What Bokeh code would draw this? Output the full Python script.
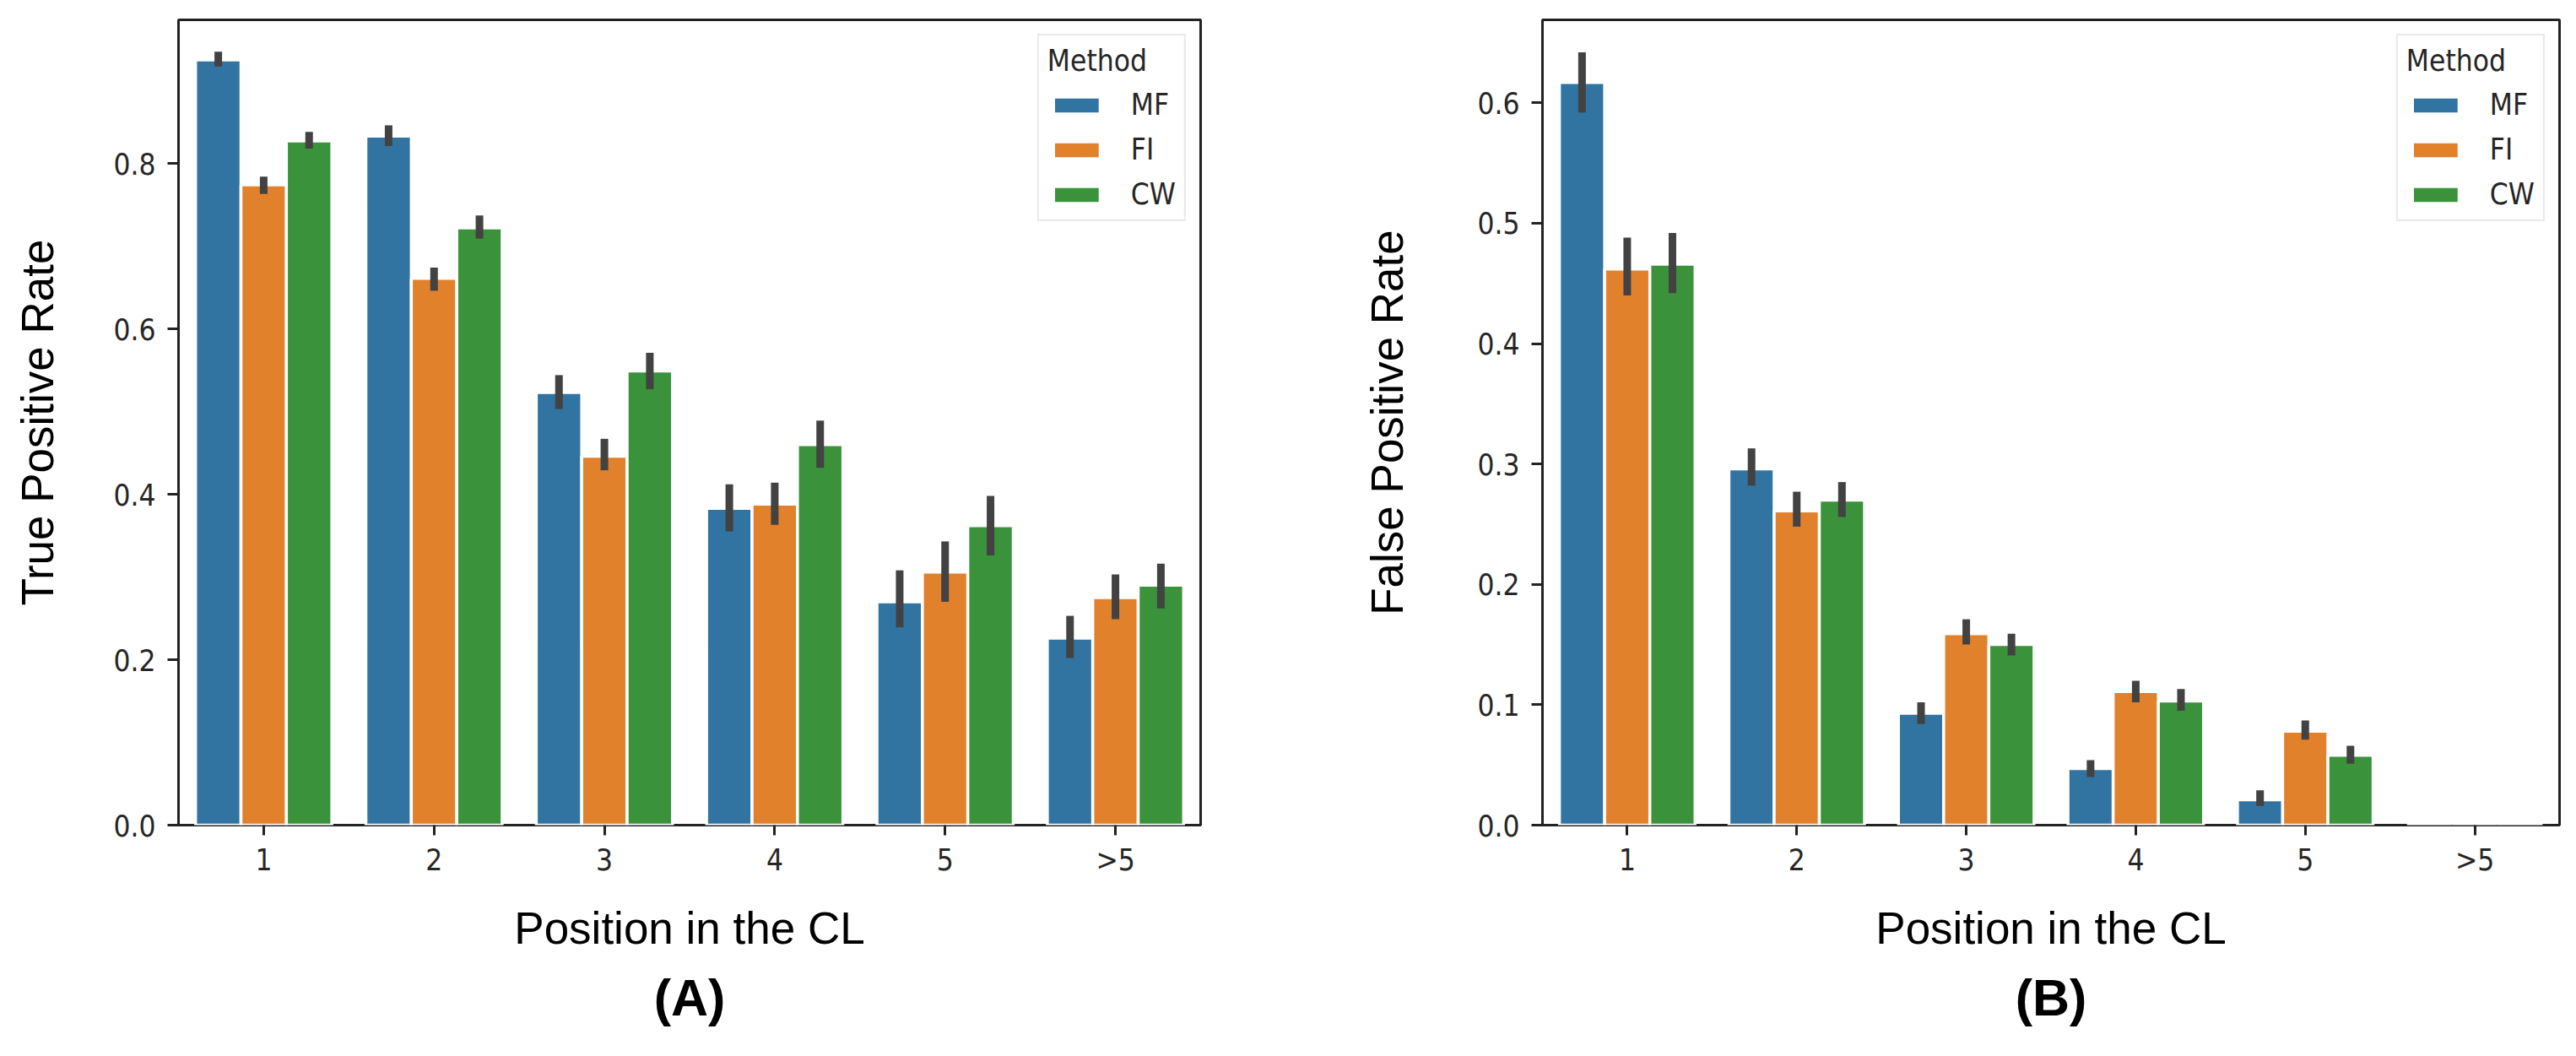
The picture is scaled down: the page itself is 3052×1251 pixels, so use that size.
from bokeh.plotting import figure
from bokeh.models import (ColumnDataSource, FactorRange, Range1d, FixedTicker,
                          Legend, LegendItem, Title, NumeralTickFormatter)
from bokeh.transform import dodge
from bokeh.layouts import row
from bokeh.embed import file_html
from bokeh.resources import INLINE

# ---------------- data ----------------
positions = ["1", "2", "3", "4", "5", ">5"]
methods = ["MF", "FI", "CW"]
colors = ["#3274a1", "#e1812c", "#3a923a"]

# True Positive Rate (panel A)
tpr_mf = [0.925, 0.833, 0.523, 0.383, 0.270, 0.226]
tpr_fi = [0.774, 0.661, 0.446, 0.388, 0.306, 0.275]
tpr_cw = [0.827, 0.722, 0.549, 0.460, 0.362, 0.290]
tpr_mf_lo = [0.917, 0.821, 0.503, 0.355, 0.239, 0.202]
tpr_mf_hi = [0.935, 0.846, 0.544, 0.412, 0.308, 0.253]
tpr_fi_lo = [0.763, 0.646, 0.429, 0.363, 0.270, 0.249]
tpr_fi_hi = [0.784, 0.674, 0.467, 0.414, 0.343, 0.303]
tpr_cw_lo = [0.818, 0.709, 0.527, 0.432, 0.326, 0.262]
tpr_cw_hi = [0.838, 0.737, 0.571, 0.489, 0.398, 0.316]

# False Positive Rate (panel B)
fpr_mf = [0.617, 0.296, 0.093, 0.047, 0.021, 0.0]
fpr_fi = [0.462, 0.261, 0.159, 0.111, 0.078, 0.0]
fpr_cw = [0.466, 0.270, 0.150, 0.103, 0.058, 0.0]
fpr_mf_lo = [0.592, 0.282, 0.084, 0.040, 0.016, 0.0]
fpr_mf_hi = [0.642, 0.313, 0.102, 0.054, 0.029, 0.0]
fpr_fi_lo = [0.440, 0.248, 0.150, 0.102, 0.071, 0.0]
fpr_fi_hi = [0.488, 0.277, 0.171, 0.120, 0.087, 0.0]
fpr_cw_lo = [0.442, 0.256, 0.141, 0.095, 0.051, 0.0]
fpr_cw_hi = [0.492, 0.285, 0.159, 0.113, 0.066, 0.0]

tpr_ticks = [0.0, 0.2, 0.4, 0.6, 0.8]
fpr_ticks = [0.0, 0.1, 0.2, 0.3, 0.4, 0.5, 0.6]

x_label = "Position in the CL"
tpr_label = "True Positive Rate"
fpr_label = "False Positive Rate"

# ---------------- styling ----------------
BAR_W = 0.8 / 3
OFFSETS = [-BAR_W, 0.0, BAR_W]
AX_COLOR = "#222222"
TXT_COLOR = "#262626"
TICK_FONT = "DejaVu Sans Condensed, DejaVu Sans"
TICK_SIZE = "35px"
LABEL_FONT = "Liberation Sans"


def make_panel(vals, los, his, y_max, ticks, ylabel, panel_tag,
               width, mb_left, mb_right, ylab_standoff, tag_offset):
    p = figure(x_range=FactorRange(*positions), y_range=Range1d(0, y_max),
               width=width, height=1250, output_backend="svg",
               toolbar_location=None, min_border_left=mb_left,
               min_border_right=mb_right, min_border_top=23,
               min_border_bottom=273, background_fill_color="white",
               border_fill_color="white")
    renderers = []
    for k in range(3):
        src = ColumnDataSource(dict(pos=positions, val=vals[k]))
        r = p.vbar(x=dodge("pos", OFFSETS[k], range=p.x_range), top="val",
                   bottom=0, width=BAR_W, source=src, fill_color=colors[k],
                   line_color="white", line_width=3.5)
        renderers.append(r)
    for k in range(3):
        src = ColumnDataSource(dict(pos=positions, lo=los[k], hi=his[k]))
        p.segment(x0=dodge("pos", OFFSETS[k], range=p.x_range), y0="lo",
                  x1=dodge("pos", OFFSETS[k], range=p.x_range), y1="hi",
                  source=src, line_color="#424242", line_width=9)

    p.xgrid.grid_line_color = None
    p.ygrid.grid_line_color = None
    p.outline_line_color = AX_COLOR
    p.outline_line_width = 3
    p.outline_line_alpha = 1.0

    for ax in (p.xaxis[0], p.yaxis[0]):
        ax.axis_line_color = None
        ax.major_tick_line_color = AX_COLOR
        ax.major_tick_line_width = 3
        ax.major_tick_in = 0
        ax.major_tick_out = 13
        ax.minor_tick_line_color = None
        ax.major_label_text_font = TICK_FONT
        ax.major_label_text_font_size = TICK_SIZE
        ax.major_label_text_color = TXT_COLOR
        ax.axis_label_text_font = LABEL_FONT
        ax.axis_label_text_font_size = "53px"
        ax.axis_label_text_font_style = "normal"
        ax.axis_label_text_color = "black"

    p.yaxis.ticker = FixedTicker(ticks=ticks)
    p.yaxis.formatter = NumeralTickFormatter(format="0.0")
    p.yaxis.major_label_standoff = 14
    p.yaxis.axis_label = ylabel
    p.yaxis.axis_label_standoff = ylab_standoff

    p.xaxis.major_tick_out = 12
    p.xaxis.major_label_standoff = 9
    p.xaxis.axis_label = x_label
    p.xaxis.axis_label_standoff = 28

    legend = Legend(items=[LegendItem(label=methods[k], renderers=[renderers[k]])
                           for k in range(3)],
                    location="top_right", title="Method",
                    title_text_font=TICK_FONT, title_text_font_size=TICK_SIZE,
                    title_text_font_style="normal", title_text_color=TXT_COLOR,
                    title_text_align="center",
                    title_standoff=12,
                    label_text_font=TICK_FONT, label_text_font_size=TICK_SIZE,
                    label_text_color=TXT_COLOR,
                    glyph_width=69, glyph_height=25, label_standoff=30,
                    spacing=13, padding=10, margin=17,
                    border_line_color="#d4d4d4", border_line_width=2.5,
                    background_fill_color="white", background_fill_alpha=0.85)
    p.add_layout(legend)

    tag = Title(text=panel_tag, align="center", text_font=LABEL_FONT,
                text_font_size="61px", text_font_style="bold",
                text_color="black", standoff=28, offset=tag_offset)
    p.add_layout(tag, "below")
    return p


pA = make_panel([tpr_mf, tpr_fi, tpr_cw], [tpr_mf_lo, tpr_fi_lo, tpr_cw_lo],
                [tpr_mf_hi, tpr_fi_hi, tpr_cw_hi], 0.9735, tpr_ticks, tpr_label,
                "(A)", width=1520, mb_left=211, mb_right=98,
                ylab_standoff=57, tag_offset=-20)
pB = make_panel([fpr_mf, fpr_fi, fpr_cw], [fpr_mf_lo, fpr_fi_lo, fpr_cw_lo],
                [fpr_mf_hi, fpr_fi_hi, fpr_cw_hi], 0.669, fpr_ticks, fpr_label,
                "(B)", width=1530, mb_left=307, mb_right=18,
                ylab_standoff=74, tag_offset=-20)

layout = row(pA, pB)
open("out.html", "w").write(file_html(layout, INLINE))
